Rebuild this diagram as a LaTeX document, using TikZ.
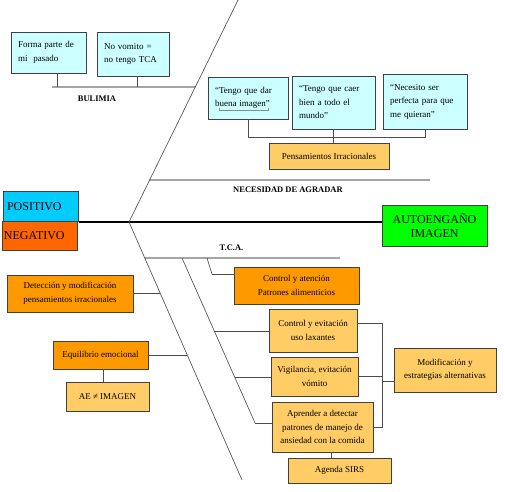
\documentclass[tikz,border=0pt]{standalone}
\usepackage{fontspec}
\setmainfont{Liberation Serif}
\usetikzlibrary{calc}
\definecolor{lcyan}{RGB}{204,255,255}
\definecolor{cyanp}{RGB}{0,204,255}
\definecolor{orneg}{RGB}{255,102,0}
\definecolor{grn}{RGB}{0,255,0}
\definecolor{org}{RGB}{255,153,0}
\definecolor{lorg}{RGB}{255,204,102}
\begin{document}
\begin{tikzpicture}[x=1pt,y=-1pt,
  box/.style={draw=black!75, line width=0.8pt, inner ysep=0pt, font=\fontsize{9}{13.5}\selectfont},
  lbox/.style={box, align=left, inner xsep=7pt},
  cbox/.style={box, align=center, inner xsep=0pt},
  bigbox/.style={draw=black!75, line width=0.8pt, inner sep=0pt, font=\fontsize{12}{14.5}\selectfont},
  fish/.style={draw=black!65, line width=0.7pt},
  conn/.style={draw=black!70, line width=0.7pt},
  bone/.style={draw=black, line width=0.9pt},
  spine/.style={draw=black, line width=1.6pt},
  lbl/.style={font=\fontsize{8.5}{10}\selectfont\bfseries, inner sep=0pt},
]
\useasboundingbox (0,0) rectangle (505,491);

% ---- main boxes
\node[bigbox, fill=cyanp, minimum width=75, minimum height=30.5, text width=68, align=left, inner xsep=0pt] (pos) at (41,206.5) {POSITIVO};
\node[bigbox, fill=orneg, minimum width=75, minimum height=28.5, text width=71, align=left] (neg) at (39.5,236) {NEGATIVO};
\node[bigbox, fill=grn, minimum width=105, minimum height=41, align=center] (auto) at (434.5,225.5) {AUTOENGAÑO\\IMAGEN};

% ---- fishbone coordinates
\coordinate (o) at (129,222);
\coordinate (ttop) at (238,0);
\coordinate (l1end) at (242,480);
\coordinate (necL) at ($(o)!42/222!(ttop)$);
\coordinate (necR) at (430,180);
\coordinate (bulR) at ($(o)!135/222!(ttop)$);
\coordinate (bulL) at (52,87);
\coordinate (tcaL) at ($(o)!36/258!(l1end)$);
\coordinate (tcaR) at (340,258);
\coordinate (l2s) at (182,258);
\coordinate (l2e) at (255,423);
\coordinate (l3s) at (207,258);
\coordinate (l3e) at (212,274);

\draw[spine] (pos.south east) -- (pos.south east -| auto.west);
\draw[fish] (o) -- (ttop);
\draw[fish] (o) -- (l1end);
\draw[bone] (necL) -- (necR);
\draw[bone] (bulL) -- (bulR);
\draw[bone] (tcaL) -- (tcaR);
\draw[fish] (l2s) -- (l2e);
\draw[fish] (l3s) -- (l3e);

% ---- labels
\node[lbl] (bul) at (97,98.5) {BULIMIA};
\node[lbl] (nec) at (288,190) {NECESIDAD DE AGRADAR};
\node[lbl] (tca) at (231.5,248) {T.C.A.};

% ---- BULIMIA boxes
\node[lbox, fill=lcyan, minimum height=41, text width=61] (forma) at (48.5,52.5) {Forma parte de\\mi\ \ pasado};
\node[lbox, fill=lcyan, minimum height=44, text width=58] (novom) at (133,54) {No vomito =\\no tengo TCA};
\coordinate (bfa) at (57,87);
\coordinate (bfb) at (137,87);
\draw[conn] (forma.south -| bfa) -- (bfa);
\draw[conn] (novom.south -| bfb) -- (bfb);

% ---- NECESIDAD boxes
\node[lbox, fill=lcyan, minimum height=42, text width=66] (t1) at (248,98) {“Tengo que dar\\buena imagen”};
\node[lbox, fill=lcyan, minimum height=53, text width=69] (t2) at (333.5,102.5) {“Tengo que caer\\bien a todo el\\mundo”};
\node[lbox, fill=lcyan, minimum height=55, text width=70] (t3) at (425,101.5) {“Necesito ser\\perfecta para que\\me quieran”};
\draw[black!45, line width=0.6pt] (219,107.5) -- (219,110) -- (268,110) -- (268,107.5);
\node[cbox, fill=lorg, minimum width=120, minimum height=26] (pens) at (329,156) {Pensamientos Irracionales};
\coordinate (tb) at (0,137);
\draw[conn] (t1.south) -- (t1.south |- tb) -- (t3.south |- tb) -- (t3.south);
\draw[conn] (t2.south) -- (t2.south |- pens.north);

% ---- left lower boxes
\node[cbox, fill=org, minimum width=126, minimum height=37] (det) at (70,293.5) {Detección y modificación\\pensamientos irracionales};
\node[cbox, fill=org, minimum width=95, minimum height=28] (equi) at (100.5,355) {Equilibrio emocional};
\node[cbox, fill=lorg, minimum width=83, minimum height=29] (ae) at (107.5,396.5) {AE ≠ IMAGEN};
\coordinate (detb) at ($(o)!71/258!(l1end)$);
\coordinate (equib) at ($(o)!133/258!(l1end)$);
\draw[conn] (det.east |- detb) -- (detb);
\draw[conn] (equi.east |- equib) -- (equib);
\coordinate (aex) at (103,0);
\draw[conn] (equi.south -| aex) -- (ae.north -| aex);

% ---- right lower boxes
\node[cbox, fill=org, minimum width=125, minimum height=37] (cat) at (296.5,285.5) {Control y atención\\Patrones alimenticios};
\node[cbox, fill=lorg, minimum width=88, minimum height=43] (cev) at (313,330.5) {Control y evitación\\uso laxantes};
\node[cbox, fill=lorg, minimum width=87, minimum height=39] (vig) at (314.5,376.5) {Vigilancia, evitación\\vómito};
\node[cbox, fill=lorg, minimum width=101, minimum height=50] (apr) at (322.5,427) {Aprender a detectar\\patrones de manejo de\\ansiedad con la comida};
\node[cbox, fill=lorg, minimum width=103, minimum height=25] (agenda) at (339.5,470.5) {Agenda SIRS};
\node[cbox, fill=lorg, minimum width=102, minimum height=44] (mod) at (445,370) {Modificación y\\estrategias alternativas};

\draw[conn] (l3e) -- (cat.west |- l3e);
\coordinate (cevb) at ($(l2s)!73/165!(l2e)$);
\coordinate (vigb) at ($(l2s)!119/165!(l2e)$);
\draw[conn] (cevb) -- (cev.west |- cevb);
\draw[conn] (vigb) -- (vig.west |- vigb);
\draw[conn] (l2e) -- (apr.west |- l2e);

\coordinate (bra) at (382,323);
\coordinate (brb) at (382,427);
\coordinate (brm) at (382,381);
\draw[conn] (cev.east |- bra) -- (bra) -- (brb) -- (apr.east |- brb);
\draw[conn] (vig.east) -- (vig.east -| bra);
\draw[conn] (brm) -- (mod.west |- brm);
\coordinate (agx) at (331,0);
\draw[conn] (apr.south -| agx) -- (agenda.north -| agx);
\end{tikzpicture}
\end{document}
